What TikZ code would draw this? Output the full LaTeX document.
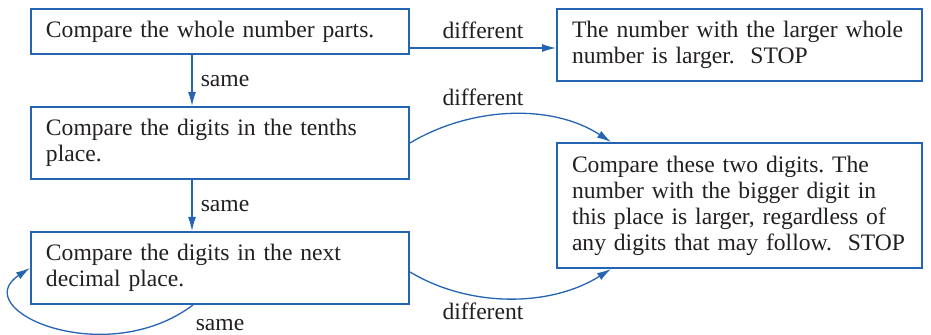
\documentclass[tikz,border=0pt]{standalone}
\usepackage{fontspec}
\setmainfont{Liberation Serif}
\usetikzlibrary{arrows.meta,calc}
\definecolor{flowblue}{RGB}{36,100,178}
\definecolor{flowtext}{RGB}{35,31,32}
\tikzset{
  stepbox/.style={draw=flowblue, line width=1pt, align=left, inner xsep=7.5pt,
    inner ysep=0pt, font=\fontsize{11.8}{13}\selectfont\frenchspacing, text=flowtext},
  leftbox/.style={stepbox, text width=174pt, minimum height=#1},
  rightbox/.style={stepbox, text width=167.5pt, minimum height=#1},
  flow/.style={draw=flowblue, line width=0.65pt, -{Latex[length=7pt,width=4pt]}},
  lbl/.style={font=\fontsize{11.8}{13}\selectfont, text=flowtext, inner sep=0pt, anchor=base}
}
\begin{document}
\begin{tikzpicture}[x=0.5pt,y=-0.5pt]
\useasboundingbox (0,0) rectangle (931,335);
\node[leftbox=22.5pt] (whole) at (220,31.5) {Compare the whole number parts.};
\node[leftbox=36pt] (tenths) at (220,143) {Compare the digits in the tenths\\place.};
\node[leftbox=36pt] (next) at (220,268) {Compare the digits in the next\\decimal place.};
\node[rightbox=36pt] (larger) at (739.5,45) {The number with the larger whole\\number is larger.\ \ STOP};
\node[rightbox=62.5pt] (bigger) at (739.5,205.5) {Compare these two digits. The\\number with the bigger digit in\\this place is larger, regardless of\\any digits that may follow.\ \ STOP};
% connectors
\draw[flow] ([yshift=-1.5pt]larger.west -| whole.east) -- ([yshift=-1.5pt]larger.west);
\draw[flow] ([xshift=-14pt]whole.south) -- ([xshift=-14pt]tenths.north);
\draw[flow] ([xshift=-14pt]tenths.south) -- ([xshift=-14pt]next.north);
\draw[flow] (tenths.east) .. controls +(60,-36) and +(-60,-39) .. ($(bigger.north west)+(55,0)$);
\draw[flow] ([yshift=-2pt]next.east) .. controls +(60,36) and +(-60,38) .. ($(bigger.south west)+(55,0)$);
\draw[flow] ([xshift=-13.5pt]next.south) .. controls +(-88,66) and +(-64,42) .. (next.west);
% labels
\node[lbl] (diffA) at (483,39) {different};
\node[lbl] (diffB) at (483,106) {different};
\node[lbl] (diffC) at (483,320) {different};
\node[lbl] (sameA) at (225,87) {same};
\node[lbl] (sameB) at (225,212) {same};
\node[lbl] (sameC) at (220,331) {same};
\end{tikzpicture}
\end{document}
